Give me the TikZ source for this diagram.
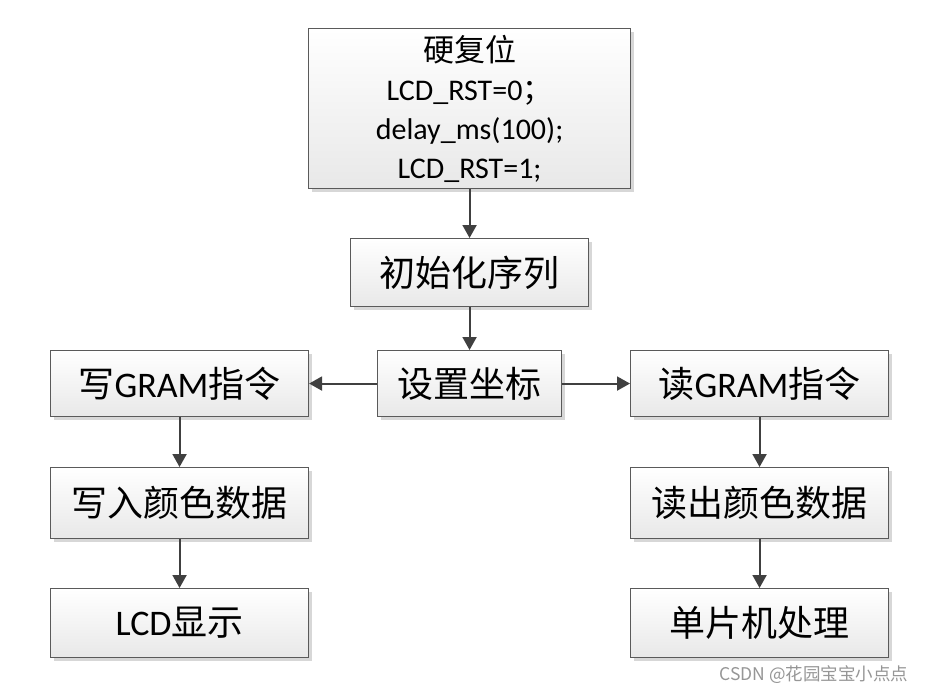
\documentclass[tikz,border=0pt]{standalone}
\usepackage{fontspec}
\setmainfont{Carlito}
\newfontfamily\cjk{Noto Sans CJK SC}
\usetikzlibrary{arrows.meta,shadows}
\definecolor{boxline}{RGB}{90,90,90}
\definecolor{boxbottom}{RGB}{232,232,232}
\definecolor{shadowgray}{RGB}{215,215,215}
\definecolor{arrowgray}{RGB}{64,64,64}
\definecolor{wmgray}{RGB}{150,150,150}
\begin{document}
\begin{tikzpicture}[x=1pt,y=-1pt,
  box/.style={draw=boxline, line width=1.1pt, top color=white, bottom color=boxbottom,
    drop shadow={shadow xshift=3pt, shadow yshift=-3pt, fill=shadowgray, opacity=1},
    inner sep=0pt, anchor=north west, align=center},
  lbl/.style={font=\fontsize{36}{42}\selectfont},
  arr/.style={draw=arrowgray, line width=2pt, -{Triangle[length=13pt,width=14pt]}}]
\useasboundingbox (0,0) rectangle (926,695);
\fill[white] (0,0) rectangle (926,695);

\node[box, minimum width=322pt, minimum height=160pt,
  font=\fontsize{30}{39}\selectfont] (rst) at (308,28)
  {{\cjk\fontsize{31}{36}\selectfont 硬复位}\\LCD\_RST=0{\cjk ；}\\delay\_ms(100);\\LCD\_RST=1;};

\node[box, lbl, minimum width=238pt, minimum height=68pt] (init) at (350,238) {\cjk 初始化序列};
\node[box, lbl, minimum width=184pt, minimum height=66pt] (set) at (377,350) {\cjk 设置坐标};

\node[box, lbl, minimum width=258pt, minimum height=66pt] (wg) at (50,350) {{\cjk 写}GRAM{\cjk 指令}};
\node[box, lbl, minimum width=258pt, minimum height=71pt] (wc) at (50,467) {\cjk 写入颜色数据};
\node[box, lbl, minimum width=258pt, minimum height=69pt] (lcd) at (50,588) {LCD{\cjk 显示}};

\node[box, lbl, minimum width=258pt, minimum height=66pt] (rg) at (630,350) {{\cjk 读}GRAM{\cjk 指令}};
\node[box, lbl, minimum width=258pt, minimum height=71pt] (rc) at (630,467) {\cjk 读出颜色数据};
\node[box, lbl, minimum width=258pt, minimum height=69pt] (mcu) at (630,588) {\cjk 单片机处理};

\draw[arr] (rst.south) -- (init.north);
\draw[arr] (init.south) -- (set.north);
\draw[arr] (set.west) -- (wg.east);
\draw[arr] (set.east) -- (rg.west);
\draw[arr] (wg.south) -- (wc.north);
\draw[arr] (wc.south) -- (lcd.north);
\draw[arr] (rg.south) -- (rc.north);
\draw[arr] (rc.south) -- (mcu.north);

\node[font=\cjk\fontsize{17.5}{20}\selectfont, text=wmgray, anchor=east] (wm) at (912,675) {CSDN @花园宝宝小点点};
\end{tikzpicture}
\end{document}
